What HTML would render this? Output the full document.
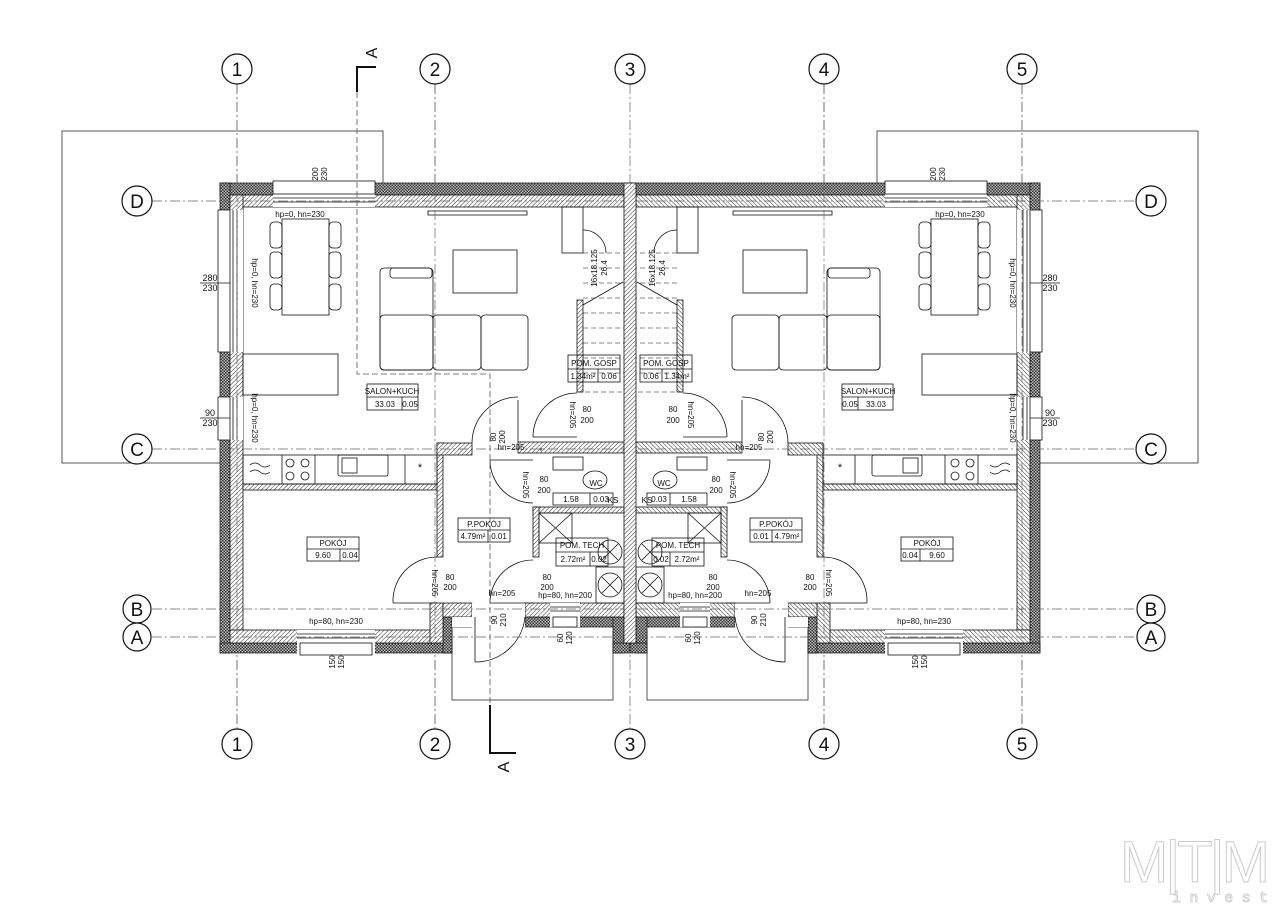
<!DOCTYPE html>
<html><head><meta charset="utf-8"><style>
html,body{margin:0;padding:0;background:#fff;}
svg{display:block;}
text{font-family:"Liberation Sans Narrow","Liberation Sans",sans-serif;fill:#111;}
</style></head><body>
<svg width="1280" height="910" viewBox="0 0 1280 910" xmlns="http://www.w3.org/2000/svg">
<defs>
<pattern id="cx" width="3" height="3" patternUnits="userSpaceOnUse">
<rect width="3" height="3" fill="#bbb"/><rect width="1.5" height="1.5" fill="#333"/><rect x="1.5" y="1.5" width="1.5" height="1.5" fill="#333"/>
</pattern>
<pattern id="hh" width="3" height="3" patternUnits="userSpaceOnUse" patternTransform="rotate(45)">
<rect width="3" height="3" fill="#fff"/><line x1="0" y1="0" x2="0" y2="3" stroke="#333" stroke-width="1"/>
</pattern>
<g id="half" stroke="#111" stroke-width="0.8" fill="none">
<!-- terrace & canopy -->
<rect x="62" y="131" width="321" height="332" stroke-width="0.7"/>
<rect x="452" y="627" width="161" height="73" stroke-width="0.7"/>
<!-- building fill -->
<rect x="220" y="183" width="410" height="447" fill="#fff" stroke="none"/>
<rect x="220" y="630" width="232" height="23" fill="#fff" stroke="none"/>
<!-- insulation -->
<g fill="url(#cx)" stroke="#111" stroke-width="0.7">
<rect x="220" y="183" width="410" height="12"/>
<rect x="220" y="183" width="10" height="470"/>
<rect x="220" y="643" width="232" height="10"/>
<rect x="443" y="617" width="9" height="36"/>
<rect x="452" y="617" width="20" height="10"/>
<rect x="525" y="617" width="99" height="10"/>
<rect x="613" y="617" width="11" height="36"/>
<rect x="613" y="643" width="17" height="10"/>
</g>
<!-- structural -->
<g fill="url(#hh)" stroke="#111" stroke-width="0.8">
<rect x="230" y="195" width="394" height="12"/>
<rect x="230" y="195" width="13" height="435"/>
<rect x="230" y="630" width="213" height="13"/>
<rect x="430" y="603" width="13" height="40"/>
<rect x="443" y="603" width="29" height="14"/>
<rect x="525" y="603" width="99" height="14"/>
<rect x="437" y="443" width="6" height="114"/>
<rect x="437" y="443" width="35" height="12"/>
<rect x="518" y="442" width="106" height="11"/>
<rect x="243" y="484" width="194" height="6"/>
<rect x="533" y="507" width="91" height="6"/>
<rect x="533" y="507" width="6" height="50"/>
<rect x="577" y="300" width="6" height="92"/>
</g>
<!-- windows -->
<g fill="#fff" stroke="#111" stroke-width="0.8">
<rect x="273" y="182" width="102" height="25" stroke="none"/>
<rect x="273" y="181" width="102" height="13"/>
<line x1="273" y1="198" x2="375" y2="198"/><line x1="273" y1="202" x2="375" y2="202"/>
<rect x="219" y="210" width="24" height="142" stroke="none"/>
<rect x="218" y="210" width="12" height="142"/>
<line x1="233" y1="210" x2="233" y2="352"/><line x1="237" y1="210" x2="237" y2="352"/>
<rect x="219" y="397" width="24" height="43" stroke="none"/>
<rect x="218" y="397" width="12" height="43"/>
<line x1="233" y1="397" x2="233" y2="440"/><line x1="237" y1="397" x2="237" y2="440"/>
<rect x="297" y="630" width="78" height="24" stroke="none"/>
<rect x="300" y="643" width="72" height="12"/>
<line x1="297" y1="634" x2="375" y2="634"/><line x1="297" y1="638" x2="375" y2="638"/>
<rect x="550" y="603" width="30" height="24" stroke="none"/>
<rect x="553" y="617" width="24" height="10"/>
<line x1="550" y1="607" x2="580" y2="607"/><line x1="550" y1="611" x2="580" y2="611"/>
<rect x="472" y="603" width="53" height="14" stroke="none"/>
<rect x="452" y="617" width="73" height="10" stroke="none"/>
</g>
<!-- doors -->
<path d="M518,443 V400 M472,443 A46,46 0 0 1 518,397"/>
<path d="M577,437 H533 M533,437 A44,44 0 0 1 577,393"/>
<path d="M533,460 H490 M490,460 A43,43 0 0 0 533,503"/>
<path d="M393,603 H437 M393,603 A44,44 0 0 1 437,557"/>
<path d="M490,603 H533 M490,603 A43,43 0 0 1 533,560"/>
<path d="M475,617 V662 M475,662 A50,50 0 0 0 525,617"/>
<!-- stairs -->
<rect x="562" y="207" width="21" height="46"/>
<path d="M583,230 A23,23 0 0 1 606,253"/>
<path d="M583,305 L623,282"/>
<g stroke-dasharray="5,3" stroke-width="0.6">
<line x1="583" y1="253" x2="624" y2="253"/><line x1="583" y1="268" x2="624" y2="268"/>
<line x1="583" y1="283" x2="624" y2="283"/><line x1="583" y1="298" x2="624" y2="298"/>
<line x1="583" y1="313" x2="624" y2="313"/><line x1="583" y1="328" x2="624" y2="328"/>
<line x1="583" y1="343" x2="624" y2="343"/><line x1="583" y1="358" x2="624" y2="358"/>
<line x1="583" y1="373" x2="624" y2="373"/><line x1="577" y1="392" x2="624" y2="392"/>
</g>
<!-- furniture -->
<rect x="282" y="219" width="47" height="96"/>
<rect x="270" y="222" width="12" height="26" rx="4"/><rect x="270" y="252" width="12" height="26" rx="4"/><rect x="270" y="284" width="12" height="26" rx="4"/>
<rect x="329" y="222" width="12" height="26" rx="4"/><rect x="329" y="252" width="12" height="26" rx="4"/><rect x="329" y="284" width="12" height="26" rx="4"/>
<rect x="380" y="268" width="53" height="102" rx="4"/>
<rect x="390" y="268" width="42" height="10" rx="3"/>
<rect x="380" y="315" width="53" height="55" rx="4"/>
<rect x="433" y="315" width="48" height="55" rx="4"/>
<rect x="481" y="315" width="47" height="55" rx="4"/>
<rect x="453" y="250" width="64" height="43"/>
<rect x="243" y="354" width="95" height="41"/>
<rect x="428" y="211" width="99" height="4"/>
<!-- kitchen -->
<rect x="243" y="455" width="194" height="29"/>
<line x1="282" y1="455" x2="282" y2="484"/><line x1="315" y1="455" x2="315" y2="484"/><line x1="405" y1="455" x2="405" y2="484"/>
<circle cx="290" cy="463" r="4"/><circle cx="305" cy="463" r="4"/><circle cx="290" cy="476" r="4"/><circle cx="305" cy="476" r="4"/>
<rect x="338" y="455" width="50" height="21" rx="2"/><rect x="342" y="458" width="15" height="15"/>
<path d="M250,465 q5,-4 10,0 t10,0 M250,472 q5,-4 10,0 t10,0"/>
<!-- WC / tech -->
<rect x="553" y="457" width="30" height="13"/>
<ellipse cx="595" cy="480" rx="12" ry="9"/>
<rect x="553" y="493" width="60" height="12"/>
<rect x="539" y="513" width="33" height="30"/><path d="M539,513 L572,543 M572,513 L539,543"/>
<rect x="596" y="567" width="28" height="36"/>
<circle cx="610" cy="552" r="12"/><path d="M602,544 L618,560 M618,544 L602,560"/>
<circle cx="610" cy="585" r="12"/><path d="M602,577 L618,593 M618,577 L602,593"/>
<rect x="556" y="538" width="52" height="28"/><line x1="556" y1="552" x2="608" y2="552"/><line x1="590" y1="552" x2="590" y2="566"/>
<rect x="367" y="384" width="51" height="26"/><line x1="367" y1="397" x2="418" y2="397"/><line x1="402" y1="397" x2="402" y2="410"/>
<rect x="307" y="537" width="52" height="24"/><line x1="307" y1="549" x2="359" y2="549"/><line x1="340" y1="549" x2="340" y2="561"/>
<rect x="458" y="518" width="52" height="24"/><line x1="458" y1="530" x2="510" y2="530"/><line x1="488" y1="530" x2="488" y2="542"/>
<rect x="568" y="355" width="52" height="27"/><line x1="568" y1="369" x2="620" y2="369"/><line x1="598" y1="369" x2="598" y2="382"/>
<line x1="590" y1="493" x2="590" y2="505"/>
<line x1="200" y1="283" x2="230" y2="283"/><line x1="200" y1="418" x2="230" y2="418"/>
</g>
</defs>

<!-- grid lines -->
<g stroke="#666" stroke-width="0.7" stroke-dasharray="10,3,2,3">
<line x1="237" y1="84" x2="237" y2="729"/><line x1="435" y1="84" x2="435" y2="729"/>
<line x1="630" y1="84" x2="630" y2="729"/><line x1="824" y1="84" x2="824" y2="729"/>
<line x1="1022" y1="84" x2="1022" y2="729"/>
</g>

<use href="#half"/>
<use href="#half" transform="matrix(-1 0 0 1 1260 0)"/>

<g stroke="#666" stroke-width="0.7" stroke-dasharray="10,3,2,3">
<line x1="152" y1="201" x2="1136" y2="201"/><line x1="152" y1="449" x2="1136" y2="449"/>
<line x1="152" y1="609" x2="1136" y2="609"/><line x1="152" y1="637" x2="1136" y2="637"/>
<line x1="237" y1="84" x2="237" y2="729"/><line x1="435" y1="84" x2="435" y2="729"/>
<line x1="824" y1="84" x2="824" y2="729"/><line x1="1022" y1="84" x2="1022" y2="729"/>
</g>
<!-- party wall -->
<rect x="624" y="183" width="12" height="460" fill="url(#hh)" stroke="#111" stroke-width="0.8"/>
<!-- section line -->
<path d="M357,92 V374 H490 V740" fill="none" stroke="#555" stroke-width="0.8" stroke-dasharray="6,3"/>
<path d="M357,92 V67 H376" fill="none" stroke="#111" stroke-width="2"/>
<text x="0" y="0" font-size="16" text-anchor="middle" transform="translate(377,53) rotate(-90)">A</text>
<path d="M490,705 V753 H516" fill="none" stroke="#111" stroke-width="2"/>
<text x="0" y="0" font-size="16" text-anchor="middle" transform="translate(509,767) rotate(-90)">A</text>

<!-- grid bubbles -->
<g fill="#fff" stroke="#111" stroke-width="1.2">
<circle cx="237" cy="69" r="15"/><circle cx="435" cy="69" r="15"/><circle cx="630" cy="69" r="15"/><circle cx="824" cy="69" r="15"/><circle cx="1022" cy="69" r="15"/>
<circle cx="237" cy="744" r="15"/><circle cx="435" cy="744" r="15"/><circle cx="630" cy="744" r="15"/><circle cx="824" cy="744" r="15"/><circle cx="1022" cy="744" r="15"/>
<circle cx="137" cy="201" r="15"/><circle cx="137" cy="449" r="15"/><circle cx="137" cy="609" r="14"/><circle cx="137" cy="637" r="14"/>
<circle cx="1151" cy="201" r="15"/><circle cx="1151" cy="449" r="15"/><circle cx="1151" cy="609" r="14"/><circle cx="1151" cy="637" r="14"/>
</g>
<g font-size="19" text-anchor="middle">
<text x="237" y="76">1</text><text x="435" y="76">2</text><text x="630" y="76">3</text><text x="824" y="76">4</text><text x="1022" y="76">5</text>
<text x="237" y="751">1</text><text x="435" y="751">2</text><text x="630" y="751">3</text><text x="824" y="751">4</text><text x="1022" y="751">5</text>
<text x="137" y="208">D</text><text x="137" y="456">C</text><text x="137" y="616">B</text><text x="137" y="644">A</text>
<text x="1151" y="208">D</text><text x="1151" y="456">C</text><text x="1151" y="616">B</text><text x="1151" y="644">A</text>
</g>

<!-- labels -->
<g font-size="8" text-anchor="middle">
<text x="300" y="217">hp=0, hn=230</text><text x="960" y="217">hp=0, hn=230</text>
<text x="336" y="624">hp=80, hn=230</text><text x="924" y="624">hp=80, hn=230</text>
<text x="565" y="598">hp=80, hn=200</text><text x="695" y="598">hp=80, hn=200</text>
<text x="210" y="281" font-size="9">280</text><text x="210" y="291" font-size="9">230</text>
<text x="1050" y="281" font-size="9">280</text><text x="1050" y="291" font-size="9">230</text>
<text x="210" y="416" font-size="9">90</text><text x="210" y="426" font-size="9">230</text>
<text x="1050" y="416" font-size="9">90</text><text x="1050" y="426" font-size="9">230</text>
<text x="392" y="394">SALON+KUCH</text><text x="385" y="407">33.03</text><text x="410" y="407">0.05</text>
<text x="868" y="394">SALON+KUCH</text><text x="850" y="407">0.05</text><text x="876" y="407">33.03</text>
<text x="333" y="546">POKÓJ</text><text x="323" y="558">9.60</text><text x="350" y="558">0.04</text>
<text x="927" y="546">POKÓJ</text><text x="910" y="558">0.04</text><text x="937" y="558">9.60</text>
<text x="484" y="527">P.POKÓJ</text><text x="473" y="539">4.79m²</text><text x="499" y="539">0.01</text>
<text x="776" y="527">P.POKÓJ</text><text x="761" y="539">0.01</text><text x="787" y="539">4.79m²</text>
<text x="594" y="366">POM. GOSP</text><text x="583" y="379">1.34m²</text><text x="609" y="379">0.06</text>
<text x="666" y="366">POM. GOSP</text><text x="651" y="379">0.06</text><text x="677" y="379">1.34m²</text>
<text x="582" y="548">POM. TECH</text><text x="573" y="562">2.72m²</text><text x="599" y="562">0.02</text>
<text x="678" y="548">POM. TECH</text><text x="661" y="562">0.02</text><text x="687" y="562">2.72m²</text>
<text x="596" y="486">WC</text><text x="664" y="486">WC</text>
<text x="571" y="502">1.58</text><text x="601" y="502">0.03</text><text x="659" y="502">0.03</text><text x="689" y="502">1.58</text>
<text x="613" y="503">KS</text><text x="647" y="503">KS</text>
<text x="587" y="412">80</text><text x="587" y="423">200</text><text x="673" y="412">80</text><text x="673" y="423">200</text>
<text x="544" y="482">80</text><text x="544" y="493">200</text><text x="716" y="482">80</text><text x="716" y="493">200</text>
<text x="450" y="580">80</text><text x="450" y="590">200</text><text x="810" y="580">80</text><text x="810" y="590">200</text>
<text x="547" y="580">80</text><text x="547" y="590">200</text><text x="713" y="580">80</text><text x="713" y="590">200</text>
<text x="511" y="450">hn=205</text><text x="749" y="450">hn=205</text>
<text x="502" y="596">hn=205</text><text x="758" y="596">hn=205</text>
<text x="541" y="454" font-size="9">*</text>
<text x="420" y="471" font-size="11">*</text><text x="840" y="471" font-size="11">*</text>
</g>
<g font-size="8" text-anchor="middle">
<text transform="translate(252,283) rotate(90)">hp=0, hn=230</text>
<text transform="translate(252,418) rotate(90)">hp=0, hn=230</text>
<text transform="translate(1010,283) rotate(90)">hp=0, hn=230</text>
<text transform="translate(1010,418) rotate(90)">hp=0, hn=230</text>
<text transform="translate(318,174) rotate(-90)">200</text><text transform="translate(327,174) rotate(-90)">230</text>
<text transform="translate(936,174) rotate(-90)">200</text><text transform="translate(945,174) rotate(-90)">230</text>
<text transform="translate(335,662) rotate(-90)">150</text><text transform="translate(344,662) rotate(-90)">150</text>
<text transform="translate(918,662) rotate(-90)">150</text><text transform="translate(927,662) rotate(-90)">150</text>
<text transform="translate(496,437) rotate(-90)">80</text><text transform="translate(505,437) rotate(-90)">200</text>
<text transform="translate(764,437) rotate(-90)">80</text><text transform="translate(773,437) rotate(-90)">200</text>
<text transform="translate(497,620) rotate(-90)">90</text><text transform="translate(506,620) rotate(-90)">210</text>
<text transform="translate(757,620) rotate(-90)">90</text><text transform="translate(766,620) rotate(-90)">210</text>
<text transform="translate(563,638) rotate(-90)">60</text><text transform="translate(572,638) rotate(-90)">120</text>
<text transform="translate(691,638) rotate(-90)">60</text><text transform="translate(700,638) rotate(-90)">120</text>
<text transform="translate(597,268) rotate(-90)">16x18.125</text><text transform="translate(607,268) rotate(-90)">26.4</text>
<text transform="translate(655,268) rotate(-90)">16x18.125</text><text transform="translate(665,268) rotate(-90)">26.4</text>
<text transform="translate(570,415) rotate(90)">hn=205</text><text transform="translate(688,415) rotate(90)">hn=205</text>
<text transform="translate(523,485) rotate(90)">hn=205</text><text transform="translate(730,485) rotate(90)">hn=205</text>
<text transform="translate(432,583) rotate(90)">hn=205</text><text transform="translate(826,583) rotate(90)">hn=205</text>
</g>

<!-- logo -->
<g fill="none" stroke="#ccc" stroke-width="1">
<text x="1120" y="882" font-size="58" style="fill:none;stroke:#ccc;stroke-width:1;font-family:'Liberation Sans',sans-serif" textLength="150">M|T|M</text>
<text x="1172" y="902" font-size="15" style="fill:none;stroke:#ccc;stroke-width:0.8;font-family:'Liberation Mono',monospace" textLength="96">invest</text>
</g>
</svg>
</body></html>
